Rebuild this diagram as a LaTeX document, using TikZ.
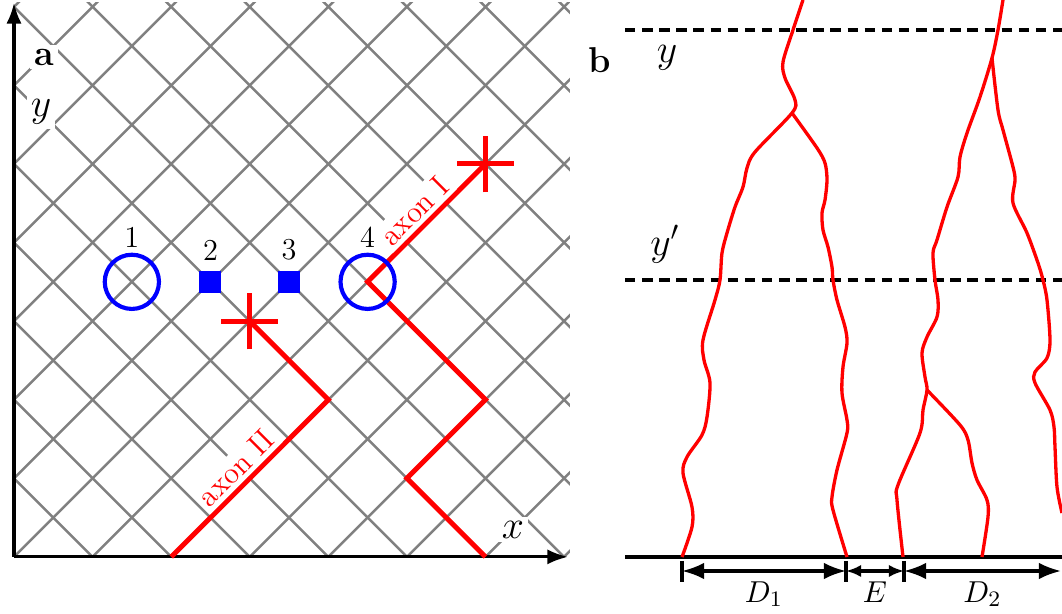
\documentclass[tikz,border=0pt]{standalone}
\usepackage{tikz}
\usetikzlibrary{arrows.meta}

\begin{document}
\begin{tikzpicture}[
  x=0.012723cm, y=-0.012723cm,
  font=\fontsize{11}{13}\selectfont,
  gridline/.style={draw=gray, line width=0.9pt},
  axis/.style={-{Latex[length=7.5pt,width=5.5pt]}, line width=1.1pt},
  axon/.style={draw=red, line width=1.8pt},
  ring/.style={circle, draw=blue, line width=1.5pt, minimum size=0.69cm, inner sep=0pt},
  site/.style={rectangle, fill=blue, minimum size=0.28cm, inner sep=0pt},
  lbl/.style={fill=white, inner sep=1.5pt},
  big/.style={font=\fontsize{14.4}{17}\selectfont},
  bold/.style={font=\fontsize{13}{15}\selectfont\bfseries},
  dendrite/.style={draw=red, line width=1.2pt},
  level/.style={dash pattern=on 3.8pt off 2.4pt, line width=1.3pt},
  dim/.style={{Latex[length=8pt,width=6pt]}-{Latex[length=8pt,width=6pt]}, line width=1.1pt},
  dimsmall/.style={{Latex[length=5.5pt,width=4.5pt]}-{Latex[length=5.5pt,width=4.5pt]}, line width=1.1pt},
  dimtick/.style={line width=1.1pt}
]
\useasboundingbox (0,0) rectangle (1062,614);

% panel a: lattice with sites and two axons
\begin{scope}[shift={(0.1781cm,-7.0867cm)}, x=0.5cm, y=0.5cm]
  \begin{scope}
    \clip (0,0) rectangle (14.15,14.1);
    \foreach \k in {-8,...,8}
      \draw[gridline] (2*\k,0) -- ++(16,16);
    \foreach \k in {0,...,15}
      \draw[gridline] (2*\k,0) -- ++(-16,16);
  \end{scope}

  \coordinate (O) at (0,0);
  \coordinate (xend) at (14.1,0);
  \coordinate (yend) at (0,14.1);
  \draw[axis] (O) -- (xend);
  \draw[axis] (O) -- (yend);

  \node[lbl, bold] (pa) at (0.76,12.72) {a};
  \node[lbl, big] (ya) at (0.69,11.32) {$y$};
  \node[lbl, big] (xa) at (12.70,0.69) {$x$};

  \coordinate (t1) at (12,10);
  \coordinate (t2) at (6,6);
  \coordinate (s4c) at (9,7);

  \draw[axon] (12,0) -- (10,2) -- (12,4) -- (s4c)
    -- node[lbl, sloped, above, text=red, pos=0.5] (ax1) {axon I} (t1);
  \draw[axon] (t2) -- (8,4) -- (6,2)
    -- node[lbl, sloped, above, text=red, pos=0.02] (ax2) {axon II} (4,0);
  \foreach \t in {t1,t2}
    \draw[axon] (\t) ++(-0.72,0) -- ++(1.44,0) (\t) ++(0,-0.72) -- ++(0,1.44);

  \node[ring, label={[label distance=-1.5pt]above:1}] (s1) at (3,7) {};
  \node[site, label=above:2] (s2) at (5,7) {};
  \node[site, label=above:3] (s3) at (7,7) {};
  \node[ring, label={[label distance=-1.5pt]above:4}] (s4) at (s4c) {};
\end{scope}

% panel b: branching axons between levels y and y'
\node[bold] (pb) at (600,60) {b};
\node[big] (yb) at (667,58) {$y$};
\node[big] (ypb) at (665,244) {$y'$};

\coordinate (l1w) at (625,30);  \coordinate (l1e) at (1062,30);
\coordinate (l2w) at (625,280); \coordinate (l2e) at (1062,280);
\coordinate (bw) at (625,557);  \coordinate (be) at (1062,557);
\draw[level] (l1w) -- (l1e);
\draw[level] (l2w) -- (l2e);
\draw[line width=1.2pt] (bw) -- (be);

\draw[dendrite] plot[smooth, tension=0.5] coordinates {(803,0) (793,30) (783,62) (785,78) (795,100) (792,113)
  (755,152) (747,168) (743,187) (735,207) (727,233) (722,253) (720,280) (715,300) (703,340) (704,360)
  (710,383) (707,417) (702,435) (687,457) (683,473) (692,507) (692,527) (682,557)};
\draw[dendrite] plot[smooth, tension=0.5] coordinates {(792,113) (817,148) (825,163) (827,180) (825,200)
  (822,213) (823,230) (828,247) (832,267) (833,280) (837,300) (845,327) (847,343) (843,367) (842,393)
  (847,420) (847,433) (837,470) (832,497) (833,510) (847,557)};
\draw[dendrite] plot[smooth, tension=0.5] coordinates {(1003,0) (998,30) (992,58) (980,97) (967,133)
  (960,157) (958,177) (947,207) (937,240) (933,253) (935,280) (938,300) (937,317) (927,337) (922,353)
  (925,377) (927,390) (923,410) (920,433) (898,485) (897,500) (903,557)};
\draw[dendrite] plot[smooth, tension=0.5] coordinates {(927,390) (960,425) (968,440) (972,463) (977,480)
  (987,500) (988,517) (982,557)};
\draw[dendrite] plot[smooth, tension=0.5] coordinates {(992,58) (998,110) (1003,130) (1013,167) (1015,180)
  (1013,203) (1027,233) (1038,263) (1043,280) (1047,300) (1050,340) (1047,358) (1035,372) (1035,383)
  (1050,410) (1054,427) (1055,447) (1057,487) (1062,513)};

\foreach \x [count=\i] in {682,846,904}
  \draw[dimtick] (\x,561) -- (\x,582) coordinate (tk\i);
\coordinate (m1) at (682,571);
\coordinate (m2) at (846,571);
\coordinate (m3) at (904,571);
\coordinate (m4) at (1061,571);
\draw[dim] (m1) -- node[below] (d1) {$D_1$} (m2);
\draw[dimsmall] (m2) -- node[below] (e) {$E$} (m3);
\draw[dim] (m3) -- node[below] (d2) {$D_2$} (m4);

\end{tikzpicture}
\end{document}
